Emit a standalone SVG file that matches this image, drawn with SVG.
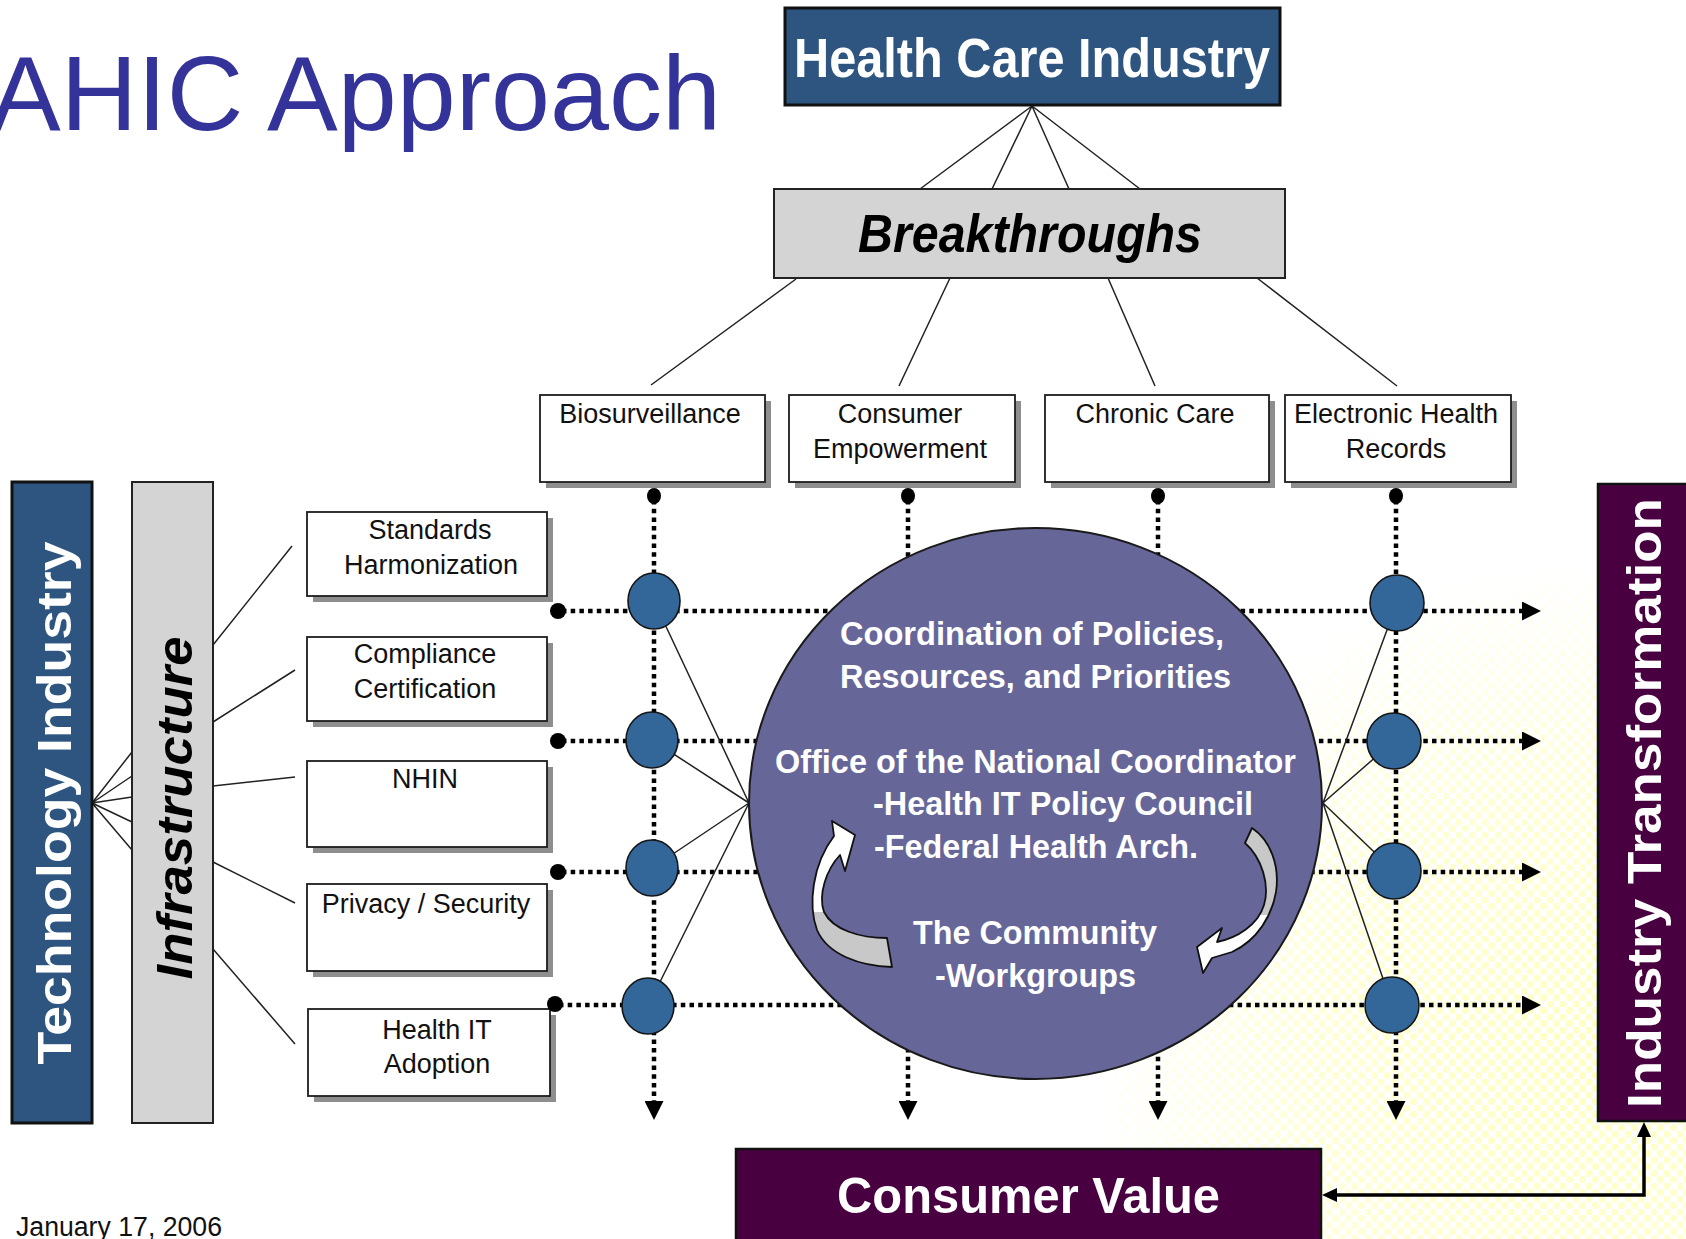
<svg xmlns="http://www.w3.org/2000/svg" width="1686" height="1239" viewBox="0 0 1686 1239">
<defs>
<style>
.lbl{font-family:"Liberation Sans",Arial,sans-serif;font-size:27px;fill:#111;text-anchor:middle}
.box{fill:#fff;stroke:#1c1c1c;stroke-width:1.8}
.shadow{fill:#8e8e8e}
.thin{fill:none;stroke:#222;stroke-width:1.5}
.dot{fill:none;stroke:#000;stroke-width:4.5;stroke-dasharray:4.5 4.2}
.node{fill:#336699;stroke:#151515;stroke-width:1.6}
.pin{fill:#000}
.ctext{font-family:"Liberation Sans",Arial,sans-serif;font-weight:bold;font-size:34px;fill:#fff}
.wt{font-family:"Liberation Sans",Arial,sans-serif;font-weight:bold;fill:#fff}
.blue{fill:#2d5580;stroke:#111;stroke-width:3}
.purple{fill:#480040;stroke:#111;stroke-width:2.5}
.grey{fill:#d4d4d4;stroke:#222;stroke-width:2}
.carrow{stroke:#111;stroke-width:1.8;stroke-linejoin:round}
</style>
<marker id="ah" viewBox="0 0 19 19" refX="0" refY="9.5" markerWidth="19" markerHeight="19" markerUnits="userSpaceOnUse" orient="auto"><path d="M0,0 L19,9.5 L0,19 Z" fill="#000"/></marker>
<marker id="ah2" viewBox="0 0 15 14" refX="0" refY="7" markerWidth="15" markerHeight="14" markerUnits="userSpaceOnUse" orient="auto-start-reverse"><path d="M0,0 L15,7 L0,14 Z" fill="#000"/></marker>
<pattern id="ht" width="13" height="13" patternUnits="userSpaceOnUse"><circle cx="3" cy="3" r="3.7" fill="#ffffc2"/><circle cx="9.5" cy="9.5" r="3.7" fill="#ffffc2"/></pattern>
<radialGradient id="fade" cx="1590" cy="1060" r="500" gradientUnits="userSpaceOnUse"><stop offset="0" stop-color="#fff"/><stop offset="0.55" stop-color="#aaa"/><stop offset="1" stop-color="#000"/></radialGradient>
<mask id="htm"><rect x="1000" y="500" width="686" height="739" fill="url(#fade)"/></mask>
<linearGradient id="gl" gradientUnits="userSpaceOnUse" x1="0" y1="821" x2="0" y2="967"><stop offset="0" stop-color="#fff"/><stop offset="0.62" stop-color="#fff"/><stop offset="0.62" stop-color="#c8c8c8"/><stop offset="1" stop-color="#c8c8c8"/></linearGradient>
<linearGradient id="gr" gradientUnits="userSpaceOnUse" x1="0" y1="828" x2="0" y2="973"><stop offset="0" stop-color="#c8c8c8"/><stop offset="0.6" stop-color="#c8c8c8"/><stop offset="0.6" stop-color="#fff"/><stop offset="1" stop-color="#fff"/></linearGradient>
</defs>

<rect width="1686" height="1239" fill="#fff"/>
<rect x="1000" y="500" width="686" height="739" fill="url(#ht)" mask="url(#htm)"/>

<text id="title" x="-10" y="130" font-family="'Liberation Sans',Arial,sans-serif" font-size="105" fill="#333399" textLength="731" lengthAdjust="spacingAndGlyphs">AHIC Approach</text>

<g id="connectors">
  <path class="thin" d="M1032,106 L920,189 M1032,106 L992,189 M1032,106 L1069,189 M1032,106 L1140,189"/>
  <path class="thin" d="M796,279 L651,385 M950,278 L899,386 M1108,278 L1155,386 M1257,278 L1397,386"/>
  <path class="thin" d="M92,803 L132,752 M92,803 L132,776 M92,803 L132,797 M92,803 L132,822 M92,803 L132,850"/>
  <path class="thin" d="M213,645 L292,546 M213,722 L295,670 M213,786 L295,777 M213,862 L295,903 M213,949 L295,1044"/>
  <path class="dot" d="M654,500 L654,1101" marker-end="url(#ah)"/>
  <path class="dot" d="M908,500 L908,1101" marker-end="url(#ah)"/>
  <path class="dot" d="M1158,500 L1158,1101" marker-end="url(#ah)"/>
  <path class="dot" d="M1396,500 L1396,1101" marker-end="url(#ah)"/>
  <path class="dot" d="M562,611 L1522,611" marker-end="url(#ah)"/>
  <path class="dot" d="M562,741 L1522,741" marker-end="url(#ah)"/>
  <path class="dot" d="M562,872 L1522,872" marker-end="url(#ah)"/>
  <path class="dot" d="M559,1005 L1522,1005" marker-end="url(#ah)"/>
  <path class="thin" d="M654,601 L749,803 M652,740 L749,803 M652,868 L749,803 M648,1006 L749,803"/>
  <path class="thin" d="M1397,603 L1323,803 M1394,741 L1323,803 M1394,871 L1323,803 M1392,1005 L1323,803"/>
  <path d="M1337,1195 L1644,1195 L1644,1137" fill="none" stroke="#000" stroke-width="3.5" marker-start="url(#ah2)" marker-end="url(#ah2)"/>
</g>

<g id="health-care-industry">
  <rect class="blue" x="785" y="8" width="495" height="97"/>
  <text class="wt" x="794" y="77" font-size="56" textLength="476" lengthAdjust="spacingAndGlyphs">Health Care Industry</text>
</g>

<g id="breakthroughs">
  <rect class="grey" x="774" y="189" width="511" height="89"/>
  <text x="858" y="252" font-family="'Liberation Sans',Arial,sans-serif" font-weight="bold" font-style="italic" font-size="53" fill="#000" textLength="344" lengthAdjust="spacingAndGlyphs">Breakthroughs</text>
</g>

<g id="biosurveillance">
  <rect class="shadow" x="546" y="401" width="225" height="87"/>
  <rect class="box" x="540" y="395" width="225" height="87"/>
  <text class="lbl" x="650" y="423">Biosurveillance</text>
</g>
<g id="consumer-empowerment">
  <rect class="shadow" x="795" y="401" width="226" height="87"/>
  <rect class="box" x="789" y="395" width="226" height="87"/>
  <text class="lbl" x="900" y="423">Consumer</text>
  <text class="lbl" x="900" y="458">Empowerment</text>
</g>
<g id="chronic-care">
  <rect class="shadow" x="1051" y="401" width="224" height="87"/>
  <rect class="box" x="1045" y="395" width="224" height="87"/>
  <text class="lbl" x="1155" y="423">Chronic Care</text>
</g>
<g id="electronic-health-records">
  <rect class="shadow" x="1291" y="401" width="226" height="87"/>
  <rect class="box" x="1285" y="395" width="226" height="87"/>
  <text class="lbl" x="1396" y="423">Electronic Health</text>
  <text class="lbl" x="1396" y="458">Records</text>
</g>

<g id="technology-industry">
  <rect class="blue" x="12" y="482" width="80" height="641"/>
  <text class="wt" transform="translate(71,803) rotate(-90)" text-anchor="middle" font-size="49" textLength="523" lengthAdjust="spacingAndGlyphs">Technology Industry</text>
</g>
<g id="infrastructure">
  <rect class="grey" x="132" y="482" width="81" height="641" stroke="#111" stroke-width="2.5"/>
  <text transform="translate(192,808) rotate(-90)" text-anchor="middle" font-family="'Liberation Sans',Arial,sans-serif" font-weight="bold" font-style="italic" font-size="50" fill="#000" textLength="343" lengthAdjust="spacingAndGlyphs">Infrastructure</text>
</g>

<g id="standards-harmonization">
  <rect class="shadow" x="313" y="518" width="240" height="84"/>
  <rect class="box" x="307" y="512" width="240" height="84"/>
  <text class="lbl" x="430" y="539">Standards</text>
  <text class="lbl" x="431" y="574">Harmonization</text>
</g>
<g id="compliance-certification">
  <rect class="shadow" x="313" y="643" width="240" height="84"/>
  <rect class="box" x="307" y="637" width="240" height="84"/>
  <text class="lbl" x="425" y="663">Compliance</text>
  <text class="lbl" x="425" y="698">Certification</text>
</g>
<g id="nhin">
  <rect class="shadow" x="313" y="767" width="240" height="86"/>
  <rect class="box" x="307" y="761" width="240" height="86"/>
  <text class="lbl" x="425" y="788">NHIN</text>
</g>
<g id="privacy-security">
  <rect class="shadow" x="313" y="890" width="240" height="87"/>
  <rect class="box" x="307" y="884" width="240" height="87"/>
  <text class="lbl" x="426" y="913">Privacy / Security</text>
</g>
<g id="health-it-adoption">
  <rect class="shadow" x="314" y="1015" width="242" height="87"/>
  <rect class="box" x="308" y="1009" width="242" height="87"/>
  <text class="lbl" x="437" y="1039">Health IT</text>
  <text class="lbl" x="437" y="1073">Adoption</text>
</g>

<g id="coordination">
  <ellipse cx="1035.5" cy="803.5" rx="286.5" ry="275.5" fill="#666699" stroke="#1a1a1a" stroke-width="2"/>
  <text class="ctext" x="840" y="645" textLength="384" lengthAdjust="spacingAndGlyphs">Coordination of Policies,</text>
  <text class="ctext" x="840" y="688" textLength="391" lengthAdjust="spacingAndGlyphs">Resources, and Priorities</text>
  <text class="ctext" x="775" y="773" textLength="521" lengthAdjust="spacingAndGlyphs">Office of the National Coordinator</text>
  <text class="ctext" x="873" y="815" textLength="380" lengthAdjust="spacingAndGlyphs">-Health IT Policy Council</text>
  <text class="ctext" x="874" y="858" textLength="324" lengthAdjust="spacingAndGlyphs">-Federal Health Arch.</text>
  <text class="ctext" x="913" y="944" textLength="244" lengthAdjust="spacingAndGlyphs">The Community</text>
  <text class="ctext" x="935" y="987" textLength="201" lengthAdjust="spacingAndGlyphs">-Workgroups</text>
  <path class="carrow" fill="url(#gl)" d="M832,821 L855,835 L845,871 L840,855 C826,870 818,895 824,912 C833,930 860,938 887,938 L892,967 C860,966 828,955 817,930 C808,905 812,865 834,836 Z"/>
  <path class="carrow" fill="url(#gr)" d="M1252,828 C1270,840 1280,865 1276,892 C1272,915 1258,940 1232,952 L1212,958 L1203,973 L1197,947 L1222,928 L1217,942 C1237,938 1258,925 1264,905 C1270,885 1262,858 1245,843 Z"/>
</g>

<g id="nodes">
  <ellipse class="pin" cx="654" cy="496" rx="7" ry="8"/>
  <ellipse class="pin" cx="908" cy="496" rx="7" ry="8"/>
  <ellipse class="pin" cx="1158" cy="496" rx="7" ry="8"/>
  <ellipse class="pin" cx="1396" cy="496" rx="7" ry="8"/>
  <ellipse class="pin" cx="558" cy="611" rx="8" ry="8"/>
  <ellipse class="pin" cx="558" cy="741" rx="8" ry="8"/>
  <ellipse class="pin" cx="558" cy="872" rx="8" ry="8"/>
  <ellipse class="pin" cx="555" cy="1004" rx="8" ry="8"/>
  <ellipse class="node" cx="654" cy="601" rx="26" ry="28"/>
  <ellipse class="node" cx="652" cy="740" rx="26" ry="28"/>
  <ellipse class="node" cx="652" cy="868" rx="26" ry="28"/>
  <ellipse class="node" cx="648" cy="1006" rx="26" ry="28"/>
  <ellipse class="node" cx="1397" cy="603" rx="27" ry="28"/>
  <ellipse class="node" cx="1394" cy="741" rx="27" ry="28"/>
  <ellipse class="node" cx="1394" cy="871" rx="27" ry="28"/>
  <ellipse class="node" cx="1392" cy="1005" rx="27" ry="28"/>
</g>

<g id="industry-transformation">
  <rect class="purple" x="1598" y="484" width="100" height="637"/>
  <text class="wt" transform="translate(1661,803) rotate(-90)" text-anchor="middle" font-size="48" textLength="610" lengthAdjust="spacingAndGlyphs">Industry Transformation</text>
</g>

<g id="consumer-value">
  <rect class="purple" x="736" y="1149" width="585" height="100"/>
  <text class="wt" x="837" y="1213" font-size="50" textLength="383" lengthAdjust="spacingAndGlyphs">Consumer Value</text>
</g>

<text id="date" x="16" y="1236" font-family="'Liberation Sans',Arial,sans-serif" font-size="27" fill="#111" textLength="206" lengthAdjust="spacingAndGlyphs">January 17, 2006</text>
</svg>
